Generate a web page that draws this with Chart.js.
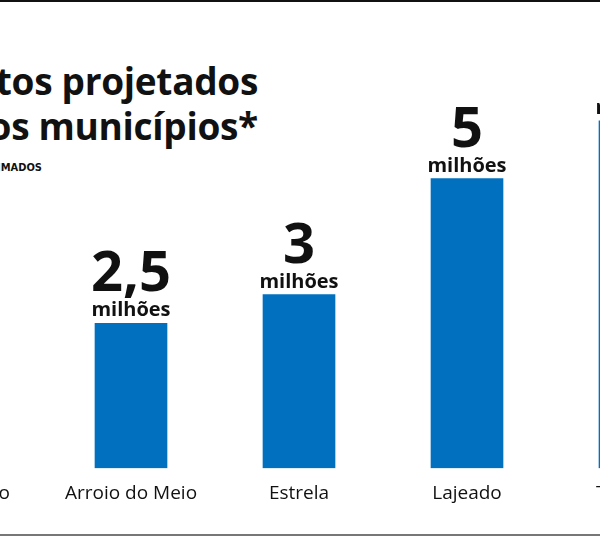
<!DOCTYPE html>
<html>
<head>
<meta charset="utf-8">
<script src="https://cdn.jsdelivr.net/npm/chart.js@4"></script>
<style>
  body { margin: 0; width: 600px; height: 537px; overflow: hidden; position: relative; background: #fff; font-family: 'Open Sans', sans-serif; }
  #topline { position: absolute; left: 0; top: 0; width: 600px; height: 2px; background: #111; }
  #bottomline { position: absolute; left: 0; top: 534px; width: 600px; height: 2px; background: #777; }
  .titulo { position: absolute; right: 342px; white-space: nowrap; font-weight: 700; font-size: 37px; color: #111; letter-spacing: -0.3px; }
  #sub { position: absolute; right: 558px; top: 161px; white-space: nowrap; font-family: 'Liberation Sans Narrow', 'DejaVu Sans Condensed', sans-serif; font-weight: 700; font-size: 11px; color: #111; }
  #wrap { position: absolute; left: -121px; top: 0; width: 840px; height: 537px; }
</style>
</head>
<body>
<div id="topline"></div>
<div class="titulo" style="top:55px">Investimentos projetados</div>
<div class="titulo" style="top:100px">nos municípios*</div>
<div id="sub">*VALORES APROXIMADOS</div>
<div id="wrap"><canvas id="chart" width="840" height="537"></canvas></div>
<div id="bottomline"></div>
<script>
// dados (milhões)
const municipios = ['Encantado', 'Arroio do Meio', 'Estrela', 'Lajeado', 'Teutônia'];
const valores = [1, 2.5, 3, 5, 6];
const rotulos = ['1', '2,5', '3', '5', '6'];
const unidades = ['milhão', 'milhões', 'milhões', 'milhões', 'milhões'];

const rotuloPlugin = {
    id: 'rotulos',
    afterDatasetsDraw(chart) {
        const ctx = chart.ctx;
        const meta = chart.getDatasetMeta(0);
        ctx.save();
        ctx.fillStyle = '#111';
        ctx.textAlign = 'center';
        meta.data.forEach((bar, i) => {
            ctx.font = 'bold 20px "Open Sans"';
            ctx.textBaseline = 'alphabetic';
            ctx.fillText(unidades[i], bar.x, bar.y - 7);
            ctx.font = 'bold 56px "Open Sans"';
            ctx.fillText(rotulos[i], bar.x, bar.y - 32);
        });
        ctx.restore();
    }
};

new Chart(document.getElementById('chart').getContext('2d'), {
    type: 'bar',
    data: {
        labels: municipios,
        datasets: [{
            data: valores,
            backgroundColor: '#0070bf',
            barThickness: 72
        }]
    },
    options: {
        responsive: false,
        animation: false,
        layout: { padding: { top: 5, left: 0, right: 0, bottom: 26 } },
        scales: {
            y: { display: false, min: 0, max: 8 },
            x: {
                grid: { display: false },
                border: { display: false },
                ticks: { color: '#111', font: { family: 'Open Sans', size: 19 }, padding: 6 }
            }
        },
        plugins: { legend: { display: false }, tooltip: { enabled: false } }
    },
    plugins: [rotuloPlugin]
});
</script>
</body>
</html>
